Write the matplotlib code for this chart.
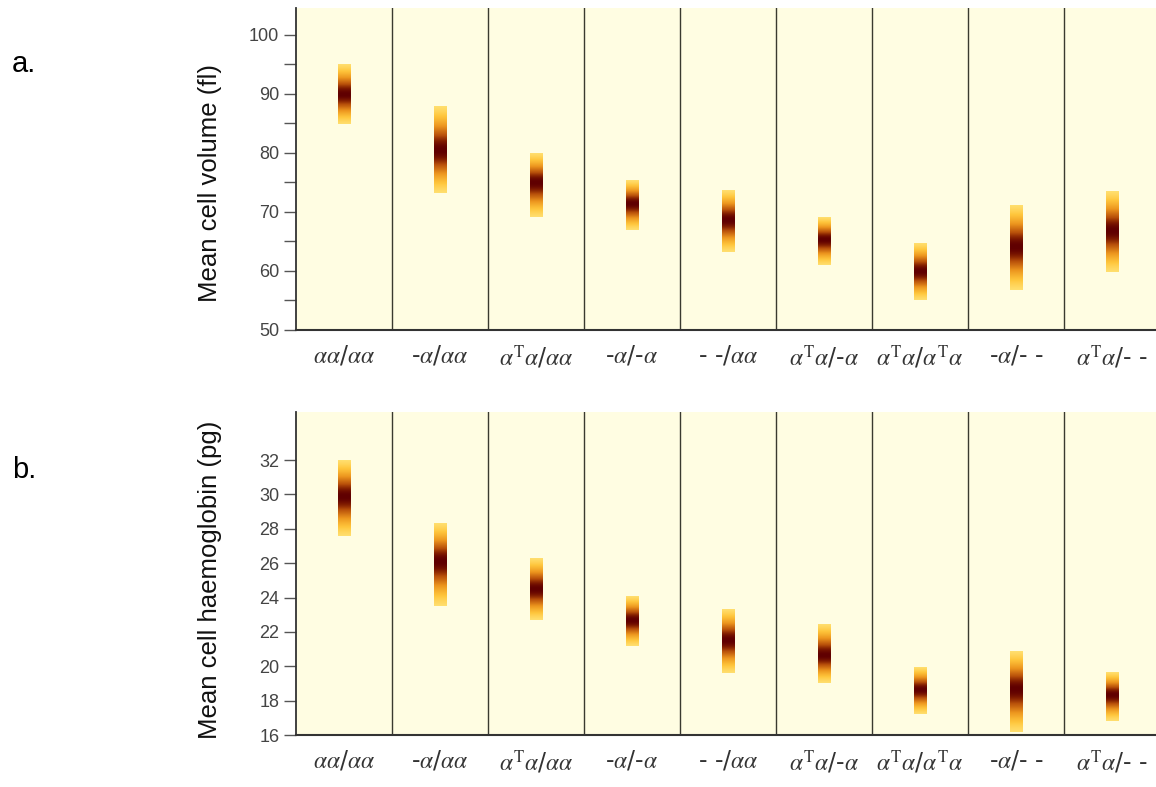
import numpy as np
import matplotlib
matplotlib.use("Agg")
import matplotlib.pyplot as plt
from matplotlib.colors import LinearSegmentedColormap

# genotypes (x tick labels)
genotypes = [r"$\alpha\alpha$/$\alpha\alpha$", r"-$\alpha$/$\alpha\alpha$",
             r"$\alpha^{\rm T}\alpha$/$\alpha\alpha$", r"-$\alpha$/-$\alpha$",
             r"- -/$\alpha\alpha$", r"$\alpha^{\rm T}\alpha$/-$\alpha$",
             r"$\alpha^{\rm T}\alpha$/$\alpha^{\rm T}\alpha$", r"-$\alpha$/- -",
             r"$\alpha^{\rm T}\alpha$/- -"]

# mean cell volume (fl): centre, low, high
mcv_mid = [89.9, 80.4, 74.9, 71.4, 68.6, 65.3, 59.9, 64.1, 66.9]
mcv_lo = [84.9, 73.2, 69.1, 67.0, 63.2, 61.0, 55.1, 56.8, 59.9]
mcv_hi = [95.0, 87.8, 79.8, 75.3, 73.6, 69.1, 64.6, 71.1, 73.6]

# mean cell haemoglobin (pg): centre, low, high
mch_mid = [29.9, 26.1, 24.5, 22.7, 21.5, 20.6, 18.6, 18.7, 18.3]
mch_lo = [27.6, 23.5, 22.7, 21.2, 19.6, 19.0, 17.2, 16.2, 16.8]
mch_hi = [32.0, 28.3, 26.3, 24.1, 23.3, 22.4, 19.9, 20.9, 19.6]

BG = "#fffde2"
cmap = LinearSegmentedColormap.from_list(
    "blob", [(0.0, BG), (0.1, "#ffe47a"), (0.3, "#ffc63c"), (0.55, "#ec951e"),
             (0.8, "#b8500a"), (0.93, "#7e1a00"), (1.0, "#600000")])

W, H = 1156, 787
fig = plt.figure(figsize=(W / 100, H / 100), dpi=100)
fig.patch.set_facecolor("white")

sans = ["Liberation Sans", "DejaVu Sans"]
plt.rcParams["mathtext.fontset"] = "stix"


def panel(rect, mid, lo, hi, ylim, major, minor, ylabel, label_y, tag, tag_y):
    ax = fig.add_axes(rect)
    ax.set_facecolor(BG)
    hw = 0.065
    for i in range(len(mid)):
        y = np.linspace(lo[i], hi[i], 300)
        s = np.where(y >= mid[i], (hi[i] - mid[i]) / 2.0, (mid[i] - lo[i]) / 2.0)
        v = np.exp(-0.5 * ((y - mid[i]) / s) ** 2)
        ax.imshow(v[:, None], extent=(i - hw, i + hw, lo[i], hi[i]), origin="lower",
                  aspect="auto", cmap=cmap, vmin=0, vmax=1, interpolation="bilinear")
    for i in range(len(mid) - 1):
        ax.axvline(i + 0.5, color="#3a3a30", lw=1.0)
    ax.set_xlim(-0.5, len(mid) - 0.5)
    ax.set_ylim(*ylim)
    ax.set_yticks(major)
    ax.set_yticks(minor, minor=True)
    ax.set_xticks(range(len(mid)))
    ax.set_xticklabels(genotypes, fontsize=17, color="#333333")
    ax.tick_params(axis="x", length=0, pad=10)
    ax.tick_params(axis="y", which="both", length=9, width=1, color="#555555",
                   labelsize=13, labelcolor="#444444", pad=3)
    for t in ax.get_yticklabels():
        t.set_family(sans)
    for side in ["top", "right"]:
        ax.spines[side].set_visible(False)
    ax.spines["left"].set_color("#333333")
    ax.spines["bottom"].set_color("#333333")
    ax.spines["left"].set_linewidth(1.3)
    ax.spines["bottom"].set_linewidth(1.5)
    ax.set_ylabel(ylabel, fontsize=18.5, family=sans, color="#111111")
    ax.yaxis.set_label_coords(-0.086, label_y)
    fig.text(12 / W, 1 - tag_y / H, tag, fontsize=21, family=sans, va="center", ha="left")
    return ax


panel([296 / W, 1 - 330 / H, 864 / W, 322 / H], mcv_mid, mcv_lo, mcv_hi,
      (50, 104.5), np.arange(50, 101, 10), np.arange(50, 101, 5),
      "Mean cell volume (fl)", 0.455, "a.", 64)
panel([296 / W, 1 - 735 / H, 864 / W, 323 / H], mch_mid, mch_lo, mch_hi,
      (16, 34.8), np.arange(16, 33, 2), [],
      "Mean cell haemoglobin (pg)", 0.48, "b.", 470)

fig.savefig("out.png", dpi=100)
